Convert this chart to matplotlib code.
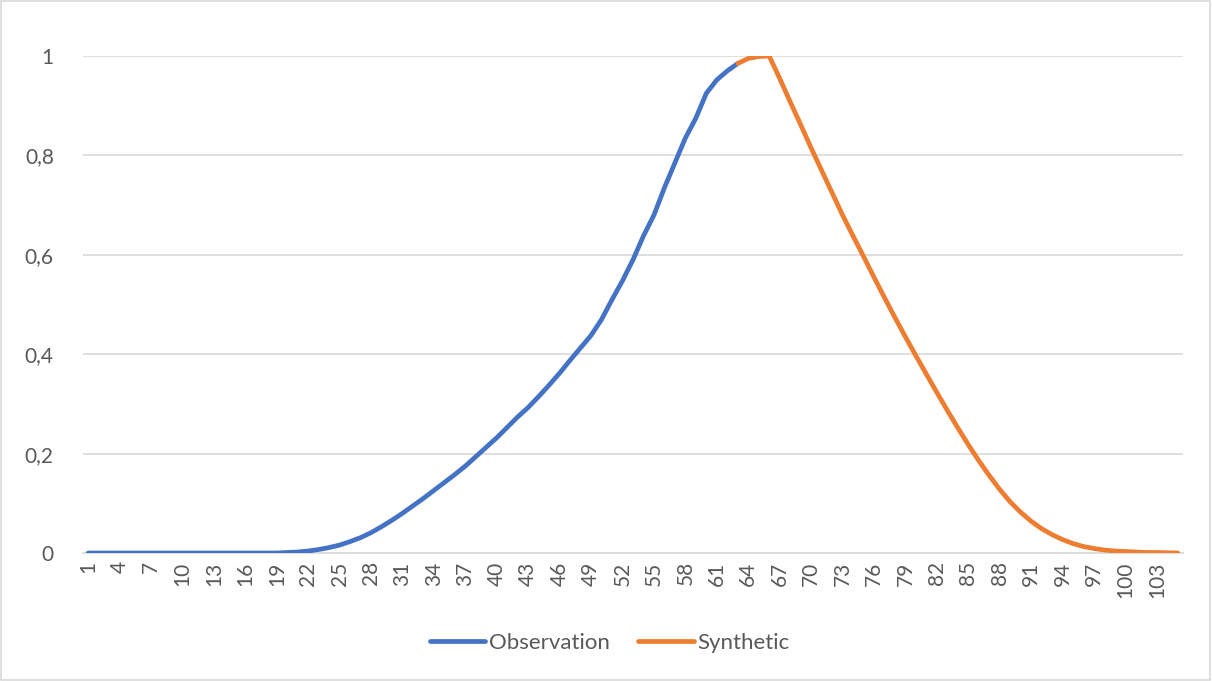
import numpy as np
import matplotlib
matplotlib.use('Agg')
import matplotlib.pyplot as plt
from matplotlib.patches import Rectangle

# Values (category index -> value)
obs_x = list(range(1, 64))
obs_y = [0.0] * 19 + [
    0.001, 0.002, 0.004, 0.007, 0.011, 0.016, 0.023, 0.031, 0.041, 0.053,
    0.066, 0.080, 0.095, 0.110, 0.126, 0.142, 0.158, 0.175, 0.194, 0.213,
    0.232, 0.253, 0.274, 0.293, 0.315, 0.338, 0.362, 0.388, 0.413, 0.438,
    0.470, 0.510, 0.548, 0.590, 0.638, 0.680, 0.735, 0.785, 0.835, 0.875,
    0.925, 0.952, 0.970, 0.985,
]

syn_x = list(range(63, 106))
syn_y = [
    0.985, 0.995, 0.999, 1.000, 0.955, 0.908, 0.862, 0.815, 0.770, 0.725,
    0.680, 0.638, 0.597, 0.555, 0.514, 0.474, 0.435, 0.397, 0.360, 0.323,
    0.287, 0.252, 0.218, 0.186, 0.156, 0.128, 0.103, 0.082, 0.064, 0.049,
    0.037, 0.027, 0.019, 0.013, 0.009, 0.006, 0.004, 0.003, 0.002, 0.001,
    0.001, 0.0005, 0.0,
]

x_ticks = list(range(1, 106, 3))
y_ticks = [0, 0.2, 0.4, 0.6, 0.8, 1.0]
y_labels = ['0', '0,2', '0,4', '0,6', '0,8', '1']

grey = '#595959'
grid = '#d9d9d9'
plt.rcParams['font.family'] = ['Lato', 'DejaVu Sans']

fig = plt.figure(figsize=(12.12, 6.81), dpi=100)
ax = fig.add_axes([83 / 1212, 1 - 553 / 681, 1100 / 1212, 497 / 681])

ax.plot(obs_x, obs_y, color='#4472C4', lw=3.4, solid_capstyle='round',
        solid_joinstyle='round', label='Observation', zorder=3)
ax.plot(syn_x, syn_y, color='#ED7D31', lw=3.4, solid_capstyle='round',
        solid_joinstyle='round', label='Synthetic', zorder=4)

ax.set_xlim(0.5, 105.5)
ax.set_ylim(0, 1)
ax.set_xticks(x_ticks)
ax.set_xticklabels([str(t) for t in x_ticks], rotation=90)
ax.set_yticks(y_ticks)
ax.set_yticklabels(y_labels)
ax.tick_params(axis='both', length=0, labelsize=15, colors=grey)
ax.tick_params(axis='y', pad=21)
ax.tick_params(axis='x', pad=6)

ax.yaxis.grid(True, color=grid, lw=1.2)
ax.set_axisbelow(True)
for s in ['top', 'right', 'left']:
    ax.spines[s].set_visible(False)
ax.spines['bottom'].set_color(grid)
ax.spines['bottom'].set_linewidth(1.2)

fig.legend(loc='center', bbox_to_anchor=(0.503, 1 - 643 / 681), ncol=2,
           frameon=False, fontsize=16, labelcolor=grey, handlelength=2.5,
           handletextpad=0.18, columnspacing=1.26)

fig.patches.append(Rectangle((0.001, 0.001), 0.997, 0.997, transform=fig.transFigure,
                             fill=False, edgecolor=grid, lw=1.2))

fig.savefig('out.png', dpi=100, facecolor='white')
